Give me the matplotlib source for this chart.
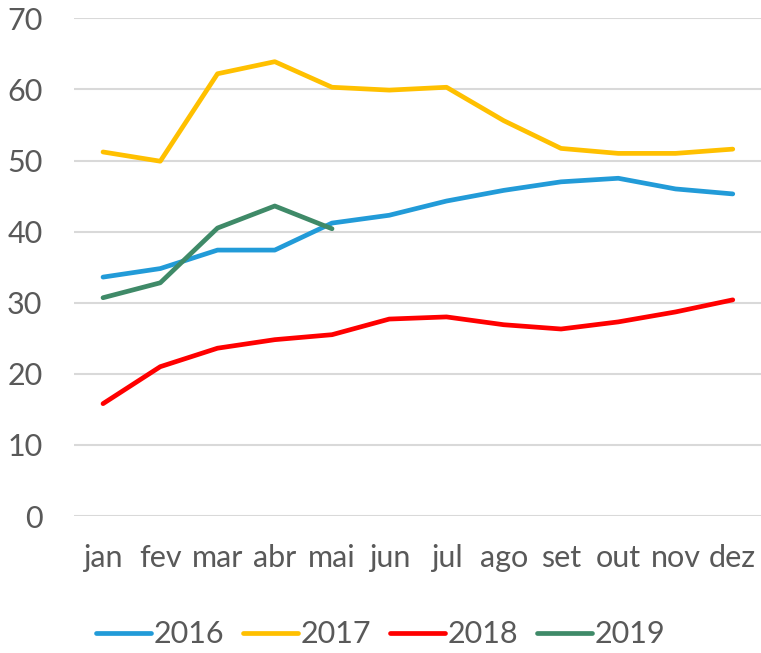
import matplotlib
matplotlib.use("Agg")
import matplotlib.pyplot as plt

months = ["jan", "fev", "mar", "abr", "mai", "jun", "jul", "ago", "set", "out", "nov", "dez"]
s2016 = [33.6, 34.8, 37.4, 37.4, 41.2, 42.3, 44.3, 45.8, 47.0, 47.5, 46.0, 45.3]
s2017 = [51.2, 49.9, 62.2, 63.9, 60.3, 59.9, 60.3, 55.6, 51.7, 51.0, 51.0, 51.6]
s2018 = [15.8, 21.0, 23.6, 24.8, 25.5, 27.7, 28.0, 26.9, 26.3, 27.3, 28.7, 30.4]
s2019 = [30.7, 32.8, 40.5, 43.6, 40.4]
yticks = [0, 10, 20, 30, 40, 50, 60, 70]

series = [("2016", s2016, "#229BD8"), ("2017", s2017, "#FFC000"),
          ("2018", s2018, "#FF0000"), ("2019", s2019, "#3F8A68")]

plt.rcParams['font.family'] = ['Lato', 'DejaVu Sans']
txt = "#595959"

fig = plt.figure(figsize=(7.61, 6.53), dpi=100)
ax = fig.add_axes([74.4 / 761, (653 - 516) / 653, 687 / 761, (516 - 18.3) / 653])

for name, vals, col in series:
    ax.plot(range(len(vals)), vals, color=col, lw=3.4, solid_capstyle='round',
            solid_joinstyle='round', label=name)

ax.set_xlim(-0.5, 11.5)
ax.set_ylim(0, 70)
ax.set_yticks(yticks)
ax.set_xticks(range(12))
ax.set_xticklabels(months)
ax.yaxis.grid(True, color="#D9D9D9", lw=1.5)
ax.set_axisbelow(True)
for sp in ax.spines.values():
    sp.set_visible(False)
ax.tick_params(axis='both', length=0, labelsize=22, labelcolor=txt)
ax.tick_params(axis='y', pad=23)
ax.tick_params(axis='x', pad=20)

fig.legend(loc='lower center', bbox_to_anchor=(0.5, -0.035), ncol=4, frameon=False,
           fontsize=22, labelcolor=txt, handlelength=1.8, handletextpad=0.1,
           columnspacing=0.6)

fig.savefig("out.png", dpi=100)
